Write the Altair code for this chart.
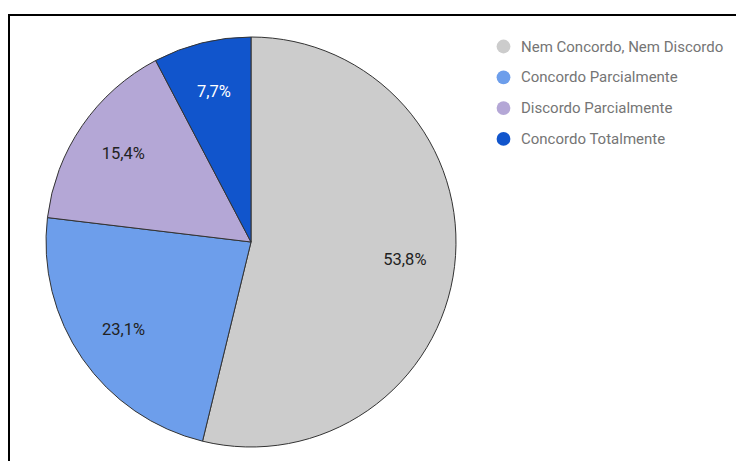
import altair as alt
import pandas as pd

categories = ["Nem Concordo, Nem Discordo", "Concordo Parcialmente", "Discordo Parcialmente", "Concordo Totalmente"]
values = [53.8, 23.1, 15.4, 7.7]
labels = ["53,8%", "23,1%", "15,4%", "7,7%"]
colors = ["#cccccc", "#6d9eeb", "#b4a7d6", "#1155cc"]

df = pd.DataFrame({"cat": categories, "value": values, "label": labels, "idx": list(range(len(categories)))})

CX, CY, R = 251, 242, 205

base = alt.Chart(df).encode(
    theta=alt.Theta("value:Q", stack=True),
    order=alt.Order("idx:Q"),
)

pie = base.mark_arc(outerRadius=R, stroke="#333333", strokeWidth=1).encode(
    x=alt.value(CX), y=alt.value(CY),
    color=alt.Color(
        "cat:N",
        scale=alt.Scale(domain=categories, range=colors),
        sort=categories,
        legend=alt.Legend(
            title=None, orient="none", legendX=496, legendY=39,
            symbolType="circle", symbolSize=190, symbolStrokeWidth=0,
            labelFont="Roboto", labelFontSize=15, labelColor="#757575",
            rowPadding=14.8, labelOffset=10, padding=0, labelLimit=300,
        ),
    ),
)

text = base.mark_text(radius=155, font="Roboto", fontSize=16.5).encode(
    x=alt.value(CX), y=alt.value(CY),
    text="label:N",
    fill=alt.condition(alt.datum.cat == "Concordo Totalmente", alt.value("#ffffff"), alt.value("#222222")),
)

one = pd.DataFrame({"a": [0]})
top_line = alt.Chart(one).mark_rule(color="#000000", strokeWidth=2).encode(
    x=alt.value(8), x2=alt.value(736), y=alt.value(15)
)
left_line = alt.Chart(one).mark_rule(color="#000000", strokeWidth=2).encode(
    x=alt.value(9), y=alt.value(14), y2=alt.value(461)
)

chart = alt.layer(pie, text, top_line, left_line).properties(
    width=736, height=461, padding=0,
    autosize=alt.AutoSizeParams(type="none"),
).configure_view(stroke=None)

chart.save("out.html", embed_options={"renderer": "svg", "actions": False})
